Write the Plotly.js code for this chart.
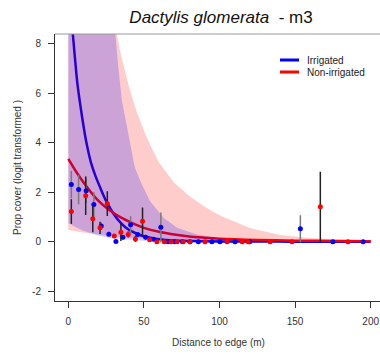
<!DOCTYPE html>
<html>
<head>
<meta charset="utf-8">
<script src="https://cdn.plot.ly/plotly-3.0.1.min.js"></script>
<style>
html, body { margin: 0; padding: 0; overflow: hidden; background: #fff; }
#chart { width: 382px; height: 354px; }
</style>
</head>
<body>
<div id="chart"></div>
<script>
// ---- Fitted curves ----
const blueCurveX = [0, 2, 4, 6, 8, 10, 12, 15, 18, 21, 25, 30, 35, 40, 45, 50, 55, 60, 70, 80, 100, 125, 150, 175, 200];
const blueCurveY = [10.6, 9.1, 7.7, 6.4, 5.5, 4.7, 4.0, 3.2, 2.65, 2.2, 1.65, 1.12, 0.74, 0.48, 0.33, 0.22, 0.15, 0.1, 0.05, 0.03, 0.01, 0.005, 0, 0, 0];
const redCurveX = [0, 5, 10, 15, 20, 25, 30, 35, 40, 45, 50, 60, 70, 80, 90, 100, 125, 150, 175, 200];
const redCurveY = [3.35, 2.85, 2.4, 2.0, 1.65, 1.38, 1.16, 0.97, 0.82, 0.68, 0.56, 0.4, 0.29, 0.21, 0.16, 0.12, 0.07, 0.04, 0.03, 0.02];

// ---- Confidence bands ----
const redUpperX = [0, 5, 10, 15, 20, 25, 30, 35, 40, 45, 50, 55, 60, 70, 80, 90, 100, 120, 140, 160, 180, 200];
const redUpperY = [30, 24, 19, 15.5, 12.7, 10.5, 9.0, 7.5, 6.3, 5.3, 4.5, 3.8, 3.2, 2.38, 1.85, 1.42, 1.07, 0.55, 0.27, 0.15, 0.09, 0.06];
const redLowerX = [0, 10, 20, 30, 40, 50, 60, 80, 100, 150, 200];
const redLowerY = [0.47, 0.37, 0.29, 0.22, 0.17, 0.13, 0.1, 0.06, 0.04, 0.015, 0.005];
const blueUpperX = [0, 5, 10, 15, 20, 25, 30, 33, 35.5, 40, 44, 48.5, 54, 63, 72, 85, 100, 120, 150, 200];
const blueUpperY = [40, 30, 22, 16.5, 12.8, 10.6, 9.2, 7.1, 5.7, 4.3, 3.0, 2.33, 1.65, 0.97, 0.56, 0.29, 0.14, 0.05, 0.01, 0];
const blueLowerX = [0, 5, 10, 15, 20, 30, 40, 50, 60, 80, 100, 150, 200];
const blueLowerY = [0.75, 0.58, 0.44, 0.33, 0.24, 0.13, 0.07, 0.035, 0.018, 0.005, 0, 0, 0];

// ---- Observed points ----
const irrX = [2, 6.8, 11.8, 16.9, 21.8, 26.8, 31.5, 36.1, 41.2, 45.9, 51.2, 56.4, 61.2, 66, 70.5, 75.5, 80.5, 86, 95, 100.3, 110.3, 120, 153.5, 175, 195];
const irrY = [2.31, 2.11, 2.06, 1.50, 0.63, 0.30, 0.01, 0.18, 0.68, 0.29, 0.18, 0.10, 0.58, 0, 0, 0, 0, 0, 0, 0, 0, 0, 0.52, 0, 0];
const irrErr = [0.55, 0.6, 0.5, 0.5, 0.15, 0.1, 0, 0.1, 0.35, 0.1, 0.1, 0.05, 0.6, 0, 0, 0, 0, 0, 0, 0, 0, 0, 0.55, 0, 0];
const nonX = [2, 11.5, 16.2, 21, 25.8, 30.4, 34.8, 39.6, 44.4, 49.1, 53.8, 58.6, 63.5, 68, 72, 76, 80.4, 90.4, 105, 115, 119, 133.5, 148, 166.7, 185];
const nonY = [1.22, 1.86, 0.93, 0.56, 1.54, 0.23, 0.38, 0.29, 0.11, 0.83, 0.08, 0, 0, 0, 0, 0, 0, 0, 0, 0, 0, 0, 0, 1.41, 0];
const nonErr = [0.5, 0.78, 0.55, 0.25, 0.5, 0.08, 0.35, 0.12, 0.12, 0.55, 0.05, 0, 0, 0, 0, 0, 0, 0, 0, 0, 0, 0, 0, 1.42, 0];

// ---- Axis ticks & labels ----
const xTickVals = [0, 50, 100, 150, 200];
const yTickVals = [-2, 0, 2, 4, 6, 8];
const yTickText = ["-2", "0", "2", "4", "6", "8"];
const seriesNames = ["Irrigated", "Non-irrigated"];

function band(ux, uy, lx, ly) {
  return {
    x: ux.concat(lx.slice().reverse()),
    y: uy.concat(ly.slice().reverse())
  };
}
const rb = band(redUpperX, redUpperY, redLowerX, redLowerY);
const bb = band(blueUpperX, blueUpperY, blueLowerX, blueLowerY);

const FONT = "Liberation Sans, Arial, sans-serif";

const traces = [
  { x: blueCurveX, y: blueCurveY, mode: "lines", line: { color: "#0000ff", width: 2.5, shape: "spline", smoothing: 0.8 }, showlegend: false, hoverinfo: "skip" },
  { x: redCurveX, y: redCurveY, mode: "lines", line: { color: "#ff0000", width: 2.5, shape: "spline", smoothing: 0.8 }, showlegend: false, hoverinfo: "skip" },
  { x: rb.x, y: rb.y, mode: "lines", fill: "toself", fillcolor: "rgba(255,0,0,0.2)", line: { width: 0 }, showlegend: false, hoverinfo: "skip" },
  { x: bb.x, y: bb.y, mode: "lines", fill: "toself", fillcolor: "rgba(0,0,255,0.2)", line: { width: 0 }, showlegend: false, hoverinfo: "skip" },
  { x: irrX, y: irrY, mode: "markers", name: seriesNames[0], marker: { color: "#0000ff", size: 5 },
    error_y: { type: "data", array: irrErr, visible: true, color: "#7a7a7a", thickness: 1.5, width: 0 }, showlegend: false },
  { x: nonX, y: nonY, mode: "markers", name: seriesNames[1], marker: { color: "#ff0000", size: 5 },
    error_y: { type: "data", array: nonErr, visible: true, color: "#222222", thickness: 1.5, width: 0 }, showlegend: false }
];

const L = 55, T = 34, W = 382, H = 354, B = 53;
const pw = W - L, ph = H - T - B;
function px2xp(px) { return (px - L) / pw; }
function py2yp(py) { return (H - B - py) / ph; }

const layout = {
  width: W, height: H,
  margin: { l: L, r: 0, t: T, b: B, pad: 0 },
  paper_bgcolor: "#ffffff", plot_bgcolor: "#ffffff",
  font: { family: FONT, size: 10, color: "#333333" },
  title: {
    text: "<i>Dactylis glomerata</i>\u00A0 - m3",
    font: { family: FONT, size: 17, color: "#111111" },
    x: 221 / W, xanchor: "center", xref: "container",
    y: 1 - 17.3 / H, yanchor: "middle", yref: "container"
  },
  xaxis: {
    range: [-8.8, 207.5], tickvals: xTickVals, ticks: "outside", ticklen: 6, tickcolor: "#333333",
    showline: true, linecolor: "#333333", linewidth: 1, showgrid: false, zeroline: false,
    tickfont: { family: FONT, size: 10, color: "#333333" }, ticklabelstandoff: 5,
    title: { text: "Distance to edge (m)", font: { family: FONT, size: 10, color: "#333333" }, standoff: 12 }
  },
  yaxis: {
    range: [-2.4, 8.4], tickvals: yTickVals, ticktext: yTickText, ticks: "outside", ticklen: 6, tickcolor: "#333333",
    showline: true, linecolor: "#333333", linewidth: 1, showgrid: false, zeroline: false,
    tickfont: { family: FONT, size: 10, color: "#333333" }, ticklabelstandoff: 5,
    title: { text: "Prop cover (logit transformed )", font: { family: FONT, size: 10, color: "#333333" }, standoff: 8 }
  },
  showlegend: false,
  shapes: [
    { type: "line", xref: "paper", yref: "paper", x0: 0, x1: 1, y0: 1, y1: 1, line: { color: "#999999", width: 1 } },
    { type: "line", xref: "paper", yref: "paper", x0: px2xp(280), x1: px2xp(299), y0: py2yp(60), y1: py2yp(60), line: { color: "#0000ff", width: 3 } },
    { type: "line", xref: "paper", yref: "paper", x0: px2xp(280), x1: px2xp(299), y0: py2yp(72), y1: py2yp(72), line: { color: "#ff0000", width: 3 } }
  ],
  annotations: [
    { xref: "paper", yref: "paper", x: px2xp(305), y: py2yp(60), xanchor: "left", yanchor: "middle", showarrow: false,
      text: seriesNames[0], font: { family: FONT, size: 10, color: "#222222" } },
    { xref: "paper", yref: "paper", x: px2xp(305), y: py2yp(72), xanchor: "left", yanchor: "middle", showarrow: false,
      text: seriesNames[1], font: { family: FONT, size: 10, color: "#222222" } }
  ]
};

Plotly.newPlot("chart", traces, layout, { displayModeBar: false, staticPlot: true });
</script>
</body>
</html>
